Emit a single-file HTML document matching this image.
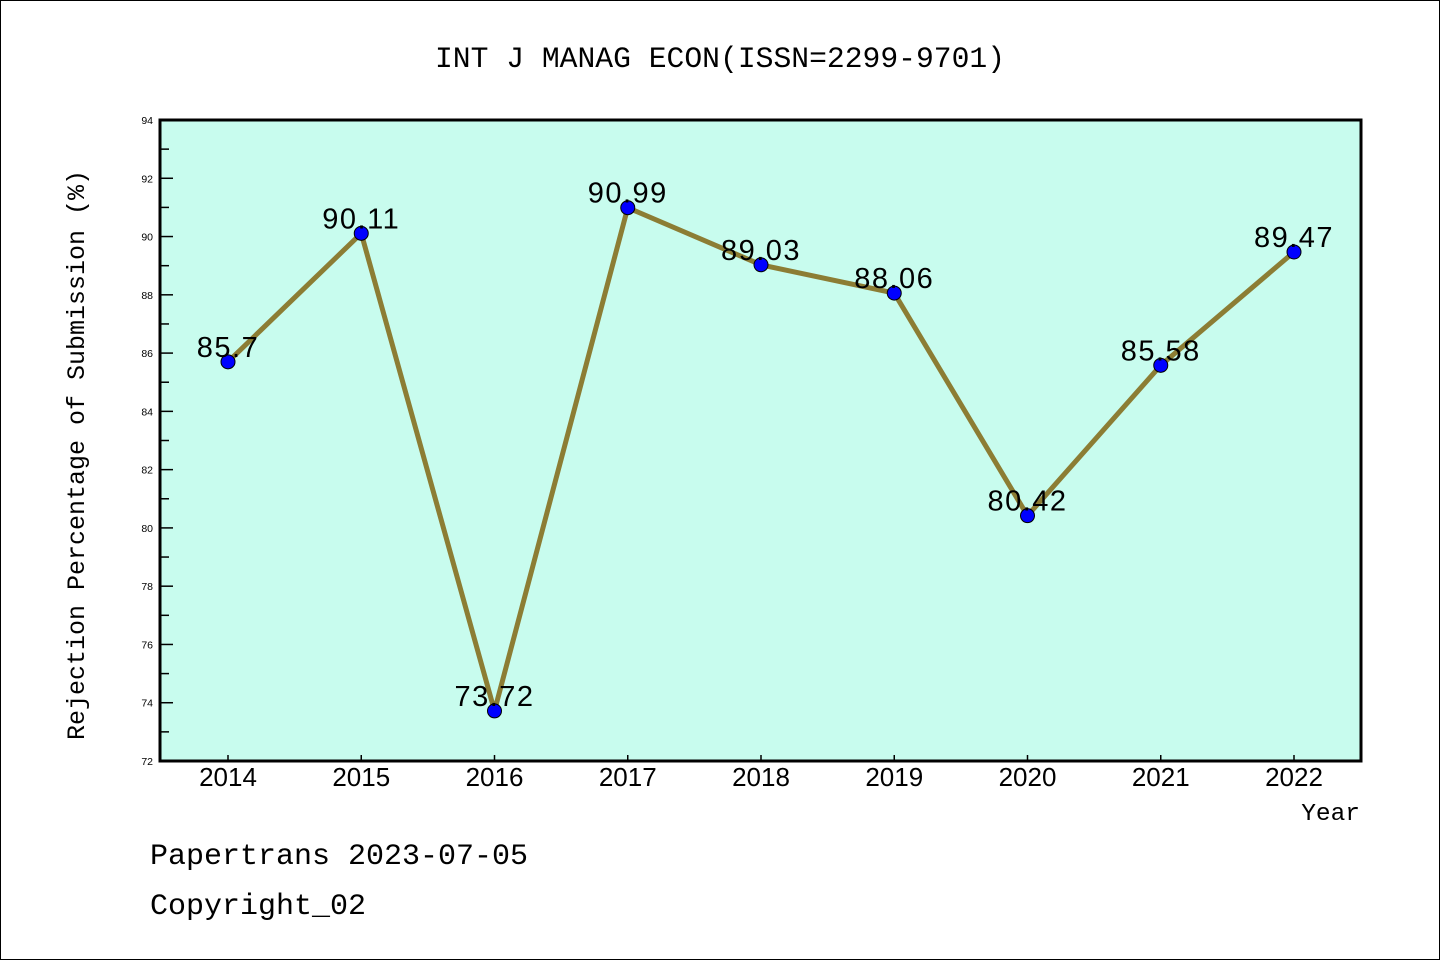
<!DOCTYPE html>
<html><head><meta charset="utf-8"><style>
html,body{margin:0;padding:0;background:#fff}
svg{display:block}
</style></head><body>
<svg id="c" width="1440" height="960" xmlns="http://www.w3.org/2000/svg">
<rect x="0.5" y="0.5" width="1439" height="959" fill="#fff" stroke="#000"/>
<text x="720" y="67" text-anchor="middle" font-family="Liberation Mono, monospace" font-size="29.7">INT J MANAG ECON(ISSN=2299-9701)</text>
<rect x="160" y="120" width="1201" height="641" fill="#c8fcee"/>
<g id="axes"></g>
<g id="marks"></g>
<rect x="160" y="120" width="1201" height="641" fill="none" stroke="#000" stroke-width="3"/>
<text transform="translate(84,455) rotate(-90)" text-anchor="middle" font-family="Liberation Mono, monospace" font-size="25">Rejection Percentage of Submission (%)</text>
<text x="1360" y="820" text-anchor="end" font-family="Liberation Mono, monospace" font-size="24.5">Year</text>
<text x="150" y="864" font-family="Liberation Mono, monospace" font-size="30">Papertrans 2023-07-05</text>
<text x="150" y="914" font-family="Liberation Mono, monospace" font-size="30">Copyright_02</text>
</svg>
<script>
const years = ['2014','2015','2016','2017','2018','2019','2020','2021','2022'];
const values = [85.7, 90.11, 73.72, 90.99, 89.03, 88.06, 80.42, 85.58, 89.47];
const valueLabels = ['85.7','90.11','73.72','90.99','89.03','88.06','80.42','85.58','89.47'];
const yTicks = [72,74,76,78,80,82,84,86,88,90,92,94];
const yMin = 72, yMax = 94;
const NS = 'http://www.w3.org/2000/svg';
const X = i => 228 + i * (1294 - 228) / (years.length - 1);
const Y = v => 761 - (v - yMin) * 641 / (yMax - yMin);
function mk(tag, attrs, parent, txt){const e=document.createElementNS(NS,tag);for(const k in attrs)e.setAttribute(k,attrs[k]);if(txt!==undefined)e.textContent=txt;parent.appendChild(e);return e;}
const axes=document.getElementById('axes'), marks=document.getElementById('marks');
yTicks.forEach(t=>{
  const y=Y(t);
  const l=mk('line',{x1:160,x2:173,y1:y,y2:y,stroke:'#000','stroke-width':1.5},axes);
  
  
  const tx=mk('text',{x:153,y:y+4,'text-anchor':'end','font-family':'Liberation Sans, sans-serif','font-size':10.5},axes,String(t));
  
  
  if(t<yMax){const ym=Y(t+1);
    const m=mk('line',{x1:160,x2:169,y1:ym,y2:ym,stroke:'#000','stroke-width':1.5},axes);
    
    }
});
years.forEach((yr,i)=>{
  const x=X(i);
  const l=mk('line',{x1:x,x2:x,y1:761,y2:755,stroke:'#000','stroke-width':1.5},axes);
  
  
  const tx=mk('text',{x:x,y:786,'text-anchor':'middle','font-family':'Liberation Sans, sans-serif','font-size':26},axes,yr);
  
  
});
const pts=values.map((v,i)=>X(i)+','+Y(v)).join(' ');
const pl=mk('polyline',{points:pts,fill:'none',stroke:'#8c7d34','stroke-width':5,'stroke-linejoin':'round'},marks);


values.forEach((v,i)=>{
  const c=mk('circle',{cx:X(i),cy:Y(v),r:7,fill:'#0000ff',stroke:'#000','stroke-width':1},marks);
  
  
  const t=mk('text',{x:X(i),y:Y(v)-5,'text-anchor':'middle','font-family':'Liberation Sans, sans-serif','font-size':29,'letter-spacing':'1.5'},marks,valueLabels[i]);
  
  
});
</script>
</body></html>
